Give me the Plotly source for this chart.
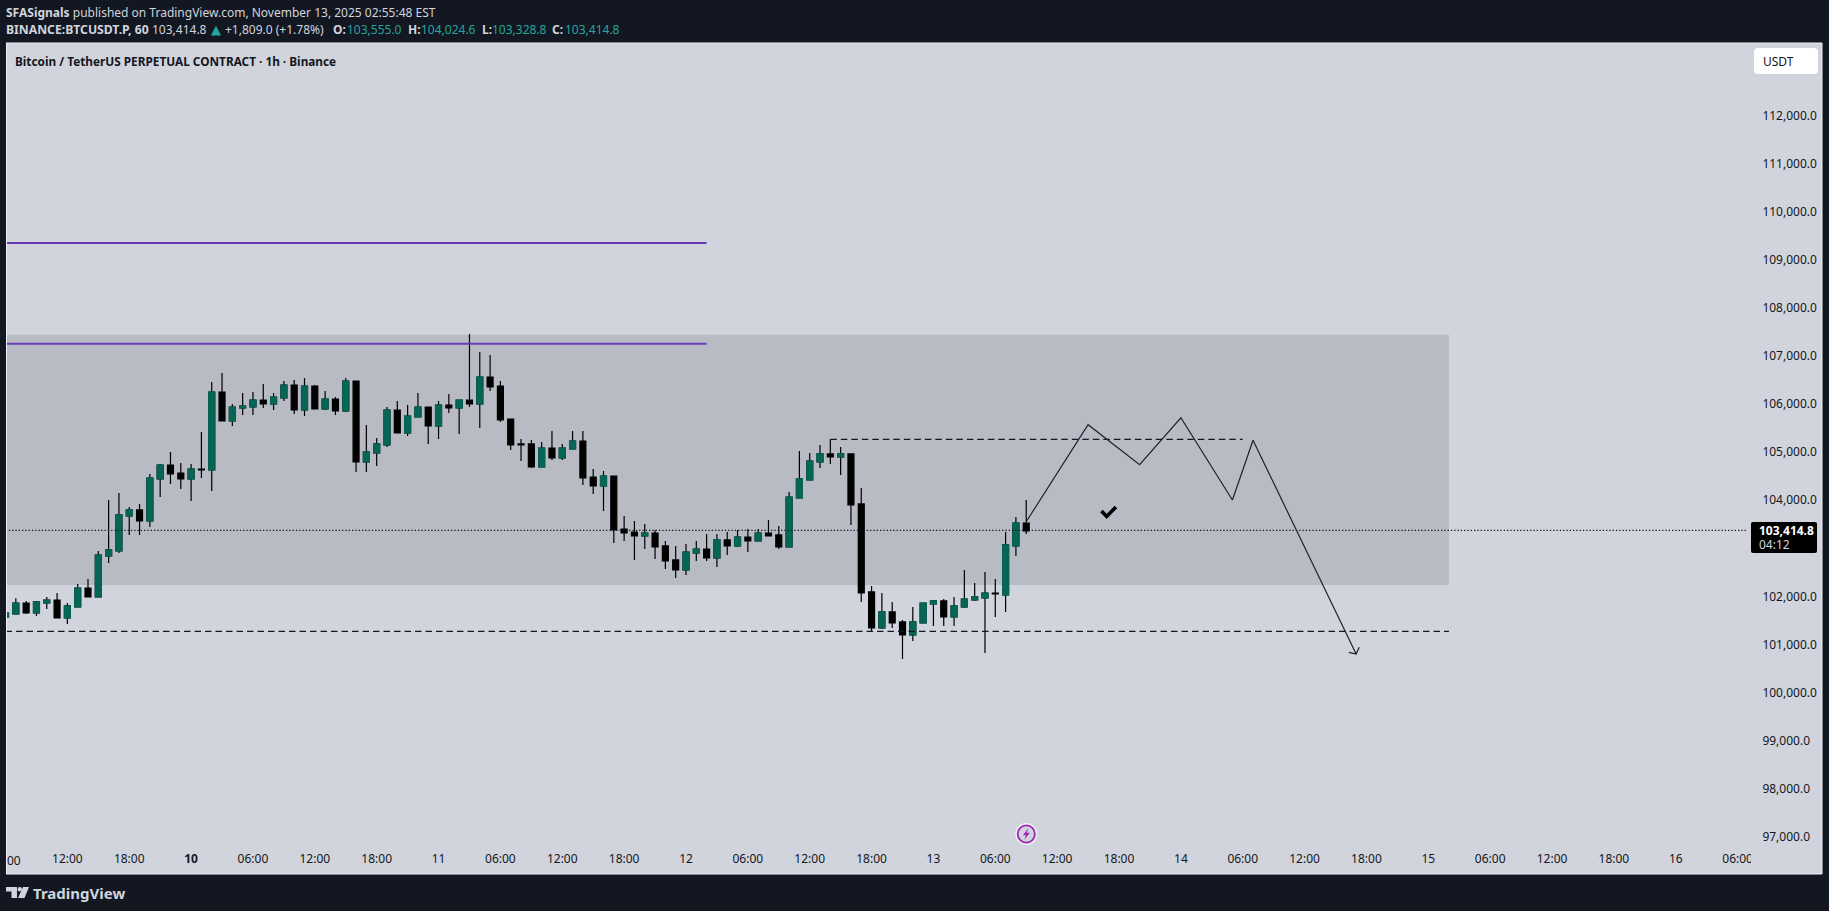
import pandas as pd
import plotly.graph_objects as go

# ---------- data ----------
OPENS = [101572,101634,101863,101655,101863,101925,101551,101780,102175,101988,
         102841,102945,103673,103798,103569,104443,104734,104567,104443,104650,
         104630,106252,105649,105919,105940,106086,106003,106127,106398,105878,
         106377,105899,106107,105857,106481,104796,104983,105150,105878,105399,
         105732,105940,105545,105982,105919,106086,106003,106564,106377,105691,
         105171,105171,104692,105087,104879,105067,105233,104484,104297,104505,
         103402,103340,103257,103319,103049,102758,102550,102903,102986,102799,
         103174,103049,103236,103153,103319,103278,103028,104047,104422,104796,
         104963,104900,104963,103923,102092,101343,101676,101468,101197,101447,
         101842,101905,101572,101780,101926,101967,102071,102030,103049,103527]
HIGHS = [101683,101960,101905,101905,101988,102071,101863,102258,102362,102945,
         104006,104151,103860,103922,104547,104755,105004,104775,104755,105420,
         106460,106647,106003,106231,106252,106419,106231,106481,106502,106543,
         106398,106273,106148,106543,106481,105566,105295,105940,106065,105982,
         106231,105940,106065,106211,106086,107459,107084,107022,106481,105691,
         105275,105254,105212,105441,105171,105441,105441,104650,104609,104505,
         103673,103569,103506,103382,103153,103049,103090,103153,103299,103299,
         103340,103382,103403,103403,103590,103465,104172,105025,104983,105150,
         105268,105108,104963,104255,102217,102071,101884,101510,101780,101863,
         101926,101946,101988,102550,102279,102508,102362,103340,103652,104006]
LOWS = [101544,101620,101634,101593,101738,101551,101426,101780,101988,101988,
        102695,102903,103278,103278,103444,104068,104338,104234,103985,104463,
        104193,105649,105545,105774,105774,105919,105878,106065,105795,105753,
        105899,105878,105774,105836,104588,104588,104713,105108,105399,105337,
        105732,105171,105275,105815,105379,105940,105503,106273,105628,105046,
        104817,104671,104692,104838,104838,105067,104318,104130,103777,103111,
        103153,102758,102986,102778,102570,102383,102446,102737,102737,102612,
        102862,103028,102924,103153,103257,102986,103028,104047,104422,104671,
        104755,104526,103486,101884,101260,101322,101343,100698,101073,101447,
        101385,101385,101385,101759,101905,100823,101572,101676,102841,103299]
CLOSES = [101655,101863,101655,101884,101925,101551,101801,102175,101988,102861,
          102966,103694,103798,103569,104463,104734,104547,104443,104650,104630,
          106252,105649,105940,105961,106086,106003,106148,106398,105878,106377,
          105899,106107,105857,106481,104796,105004,105171,105878,105399,105753,
          105940,105545,105982,105919,106086,106003,106564,106356,105670,105150,
          105150,104692,105087,104879,105087,105233,104463,104297,104505,103382,
          103319,103257,103319,103028,102737,102550,102924,102986,102799,103174,
          103049,103236,103153,103319,103257,103028,104068,104443,104817,104963,
          104900,104963,103902,102071,101343,101676,101447,101197,101468,101863,
          101905,101572,101801,101946,101988,102071,102050,103070,103527,103361]
CANDLE_TIMES = pd.date_range("2025-11-09 06:00", periods=len(OPENS), freq="h")

# 103,000.0 sits behind the last-price tag in the reference, so it is not listed
PRICE_TICKS = [97000,98000,99000,100000,101000,102000,104000,105000,
               106000,107000,108000,109000,110000,111000,112000]
TIME_TICK_AT = pd.date_range("2025-11-09 12:00", "2025-11-16 06:00", freq="6h")
TIME_TICK_LABELS = ["12:00","18:00","<b>10</b>",
                    "06:00","12:00","18:00","11",
                    "06:00","12:00","18:00","12",
                    "06:00","12:00","18:00","13",
                    "06:00","12:00","18:00","14",
                    "06:00","12:00","18:00","15",
                    "06:00","12:00","18:00","16",
                    "06:00"]

LAST_LINE_PRICE = 103375
PURPLE_HIGH = 109352
PURPLE_LOW = 107257
BAND_TOP = 107445
BAND_BOTTOM = 102237
SUPPORT = 101274
RESISTANCE = 105268

PATH_TIMES = ["2025-11-13 09:00","2025-11-13 15:00","2025-11-13 20:00","2025-11-14 00:00",
              "2025-11-14 05:00","2025-11-14 07:00","2025-11-14 17:00"]
PATH_PRICES = [103554,105572,104740,105717,104005,105247,100802]
ARROW_TIMES = ["2025-11-14 16:18","2025-11-14 17:00","2025-11-14 17:18"]
ARROW_PRICES = [100837,100802,100941]
CHECK_TIMES = ["2025-11-13 16:18","2025-11-13 16:48","2025-11-13 17:42"]
CHECK_PRICES = [103777,103662,103860]

# ---------- page geometry ----------
W, H = 1829, 911
L, R, T, B = 5, 1750, 44, 850
def px(x): return (x - L) / (R - L)
def py(y): return 1 - (y - T) / (B - T)

BG = "#131722"
PANEL = "#d1d4dc"
GREEN = "#056656"
FONT = "Noto Sans"

def rect(x0, y0, x1, y1, fill, layer="below", line=None, width=0):
    return dict(type="rect", xref="paper", yref="paper", x0=px(x0), x1=px(x1), y0=py(y0), y1=py(y1),
                fillcolor=fill, line=dict(color=line or fill, width=width), layer=layer)

def rounded(x0, y0, x1, y1, r, fill):
    a, b, c, d = px(x0), px(x1), py(y0), py(y1)
    rx, ry = r / (R - L), r / (B - T)
    p = (f"M {a+rx} {c} L {b-rx} {c} Q {b} {c} {b} {c-ry} L {b} {d+ry} Q {b} {d} {b-rx} {d} "
         f"L {a+rx} {d} Q {a} {d} {a} {d+ry} L {a} {c-ry} Q {a} {c} {a+rx} {c} Z")
    return dict(type="path", xref="paper", yref="paper", path=p, fillcolor=fill,
                line=dict(width=0), layer="above")

def poly(points, fill, layer="above"):
    p = "M " + " L ".join(f"{px(x)} {py(y)}" for x, y in points) + " Z"
    return dict(type="path", xref="paper", yref="paper", path=p, fillcolor=fill,
                line=dict(width=0), layer=layer)

def circle(cx, cy, r, fill, line=None, width=0):
    return dict(type="circle", xref="paper", yref="paper", x0=px(cx-r), x1=px(cx+r),
                y0=py(cy+r), y1=py(cy-r), fillcolor=fill,
                line=dict(color=line or fill, width=width), layer="above")

def label(x, y, text, size, color, anchor="left", family=FONT):
    return dict(xref="paper", yref="paper", x=px(x), y=py(y), text=text, showarrow=False,
                xanchor=anchor, yanchor="middle", borderpad=0, borderwidth=0,
                font=dict(family=family, size=size, color=color))

fig = go.Figure()
x_end_full = pd.Timestamp("2025-11-16 07:00")

def hline(x0, x1, y, color, width, dash="solid"):
    fig.add_trace(go.Scatter(x=[x0, x1], y=[y, y], mode="lines", hoverinfo="skip",
                             line=dict(color=color, width=width, dash=dash), showlegend=False))

hline(CANDLE_TIMES[0], x_end_full, LAST_LINE_PRICE, "#131722", 1.2, "1.3px,2px")
hline(CANDLE_TIMES[0], "2025-11-15 02:00", SUPPORT, "#131722", 1.2, "6.5px,4px")
hline("2025-11-12 14:00", "2025-11-14 06:00", RESISTANCE, "#131722", 1.2, "6.5px,4px")
hline(CANDLE_TIMES[0], "2025-11-12 02:00", PURPLE_HIGH, "#673ab7", 2)
hline(CANDLE_TIMES[0], "2025-11-12 02:00", PURPLE_LOW, "#673ab7", 2)

# wicks and black bodies
fig.add_trace(go.Candlestick(x=CANDLE_TIMES, open=OPENS, high=HIGHS, low=LOWS, close=CLOSES,
                             increasing=dict(line=dict(color="#000000", width=1.2), fillcolor="#000000"),
                             decreasing=dict(line=dict(color="#000000", width=1.2), fillcolor="#000000"),
                             showlegend=False, hoverinfo="skip"))
# green bodies on top of the black wicks
ups = [i for i in range(len(OPENS)) if CLOSES[i] > OPENS[i]]
fig.add_trace(go.Candlestick(x=[CANDLE_TIMES[i] for i in ups],
                             open=[OPENS[i] for i in ups], high=[CLOSES[i] for i in ups],
                             low=[OPENS[i] for i in ups], close=[CLOSES[i] for i in ups],
                             increasing=dict(line=dict(color=GREEN, width=1.2), fillcolor=GREEN),
                             decreasing=dict(line=dict(color=GREEN, width=1.2), fillcolor=GREEN),
                             showlegend=False, hoverinfo="skip"))

fig.add_trace(go.Scatter(x=PATH_TIMES, y=PATH_PRICES, mode="lines", hoverinfo="skip",
                         line=dict(color="#1e222d", width=1.2), showlegend=False))
fig.add_trace(go.Scatter(x=ARROW_TIMES, y=ARROW_PRICES, mode="lines", hoverinfo="skip",
                         line=dict(color="#1e222d", width=1.2), showlegend=False))
fig.add_trace(go.Scatter(x=CHECK_TIMES, y=CHECK_PRICES, mode="lines", hoverinfo="skip",
                         line=dict(color="#000000", width=3.6), showlegend=False))

shapes = [
    rect(6, 43, 1822, 874, PANEL, "below", "#eef0f5", 1),
    dict(type="rect", xref="x", yref="y", x0=CANDLE_TIMES[0], x1="2025-11-15 02:00",
         y0=BAND_BOTTOM, y1=BAND_TOP, fillcolor="#b8bbc4", line=dict(width=0), layer="below"),
    rect(0, 30, 6, 880, BG, "above"),
    rect(6, 43, 7, 874, "#eef0f5", "above"),
    rect(1751, 850, 1821, 873, PANEL, "above"),
    rounded(1754, 48, 1818, 74, 4, "#ffffff"),
    rounded(1751, 522, 1817, 553, 2, "#000000"),
    circle(1026.3, 834, 11, "#f0f1f5"),
    circle(1026.3, 834, 8.6, PANEL, "#9c27b0", 1.8),
    poly([(1028.5,828),(1023,835.2),(1026,835.2),(1024.2,840),(1029.8,832.8),(1026.8,832.8)], "#9c27b0"),
    poly([(6,887),(17,887),(17,898),(11.5,898),(11.5,891.5),(6,891.5)], "#d1d4dc"),
    circle(19.8, 889.2, 2.2, "#d1d4dc"),
    poly([(23,887),(29,887),(24.5,898),(18,898)], "#d1d4dc"),
]

TEAL = "#26a69a"
GREY = "#d1d4dc"
annotations = [
    label(6, 12.5, "<b>SFASignals</b> published on TradingView.com, November 13, 2025 02:55:48 EST", 12, GREY),
    label(6, 29.5, "<b>BINANCE:BTCUSDT.P, 60</b>", 12.2, GREY),
    label(152, 29.5, "103,414.8", 12, GREY),
    label(211, 29.5, "▲", 13, TEAL, family="DejaVu Sans"),
    label(225, 29.5, "+1,809.0 (+1.78%)", 12, GREY),
    label(333, 29.5, "<b>O:</b>", 12, GREY),
    label(347, 29.5, "103,555.0", 12, TEAL),
    label(408, 29.5, "<b>H:</b>", 12, GREY),
    label(421, 29.5, "104,024.6", 12, TEAL),
    label(482, 29.5, "<b>L:</b>", 12, GREY),
    label(492, 29.5, "103,328.8", 12, TEAL),
    label(552, 29.5, "<b>C:</b>", 12, GREY),
    label(565, 29.5, "103,414.8", 12, TEAL),
    label(15, 60.5, "<b>Bitcoin / TetherUS PERPETUAL CONTRACT · 1h · Binance</b>", 11.8, "#131722"),
    label(1763, 61.5, "USDT", 12, "#131722"),
    label(1759, 530, "<b>103,414.8</b>", 12, "#ffffff"),
    label(1759, 544, "04:12", 12, "#d1d4dc"),
    label(33, 892.5, "<b>TradingView</b>", 15, "#d1d4dc"),
    label(7, 860, "00", 12, "#131722"),
]

fig.update_layout(
    width=W, height=H, autosize=False,
    margin=dict(l=L, r=W - R, t=T, b=H - B, pad=0),
    paper_bgcolor=BG, plot_bgcolor="rgba(0,0,0,0)",
    showlegend=False, boxmode="overlay", boxgap=0.42, boxgroupgap=0,
    shapes=shapes, annotations=annotations,
    xaxis=dict(type="date", rangeslider=dict(visible=False),
               range=["2025-11-09 05:57", "2025-11-16 07:12"],
               tickvals=list(TIME_TICK_AT), ticktext=TIME_TICK_LABELS,
               tickangle=0, ticks="",
               tickfont=dict(family=FONT, size=12, color="#131722"),
               showgrid=False, zeroline=False, showline=False),
    yaxis=dict(side="right", range=[96724, 113492],
               tickvals=PRICE_TICKS, tickformat=",.1f",
               ticks="outside", ticklen=9, tickcolor="rgba(0,0,0,0)",
               tickfont=dict(family=FONT, size=12, color="#131722"),
               showgrid=False, zeroline=False, showline=False),
)

fig.write_html("out.html", config=dict(displayModeBar=False),
               post_script="document.body.style.margin='0';document.body.style.overflow='hidden';")
